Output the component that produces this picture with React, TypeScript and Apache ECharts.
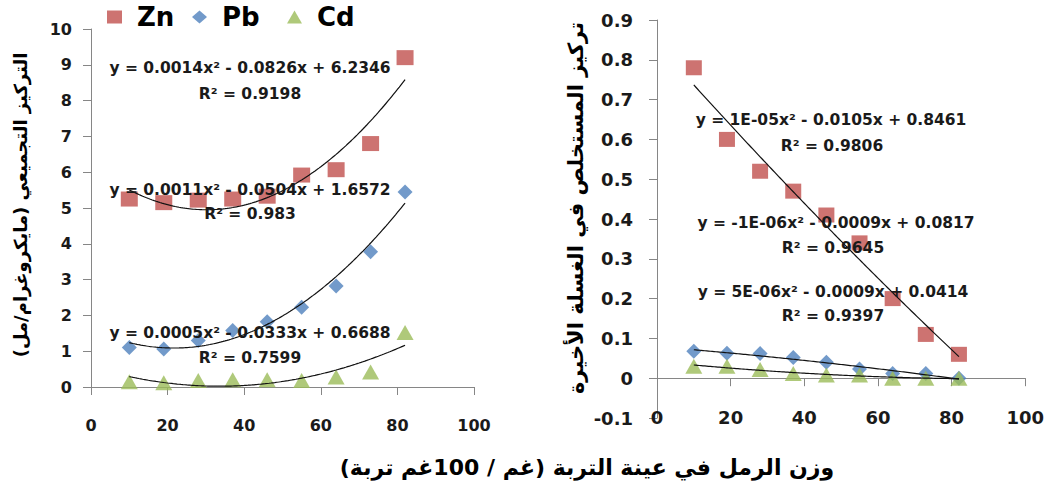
import { useEffect, useRef } from "react";
import * as echarts from "echarts";

// Sand weight in the soil sample (g / 100 g soil)
const sandWeight = [10, 19, 28, 37, 46, 55, 64, 73, 82];

// Left chart: cumulative concentration (µg/ml)
const totalZn = [5.25, 5.15, 5.22, 5.25, 5.33, 5.92, 6.07, 6.8, 9.2];
const totalPb = [1.1, 1.06, 1.3, 1.58, 1.82, 2.23, 2.82, 3.78, 5.45];
const totalCd = [0.15, 0.12, 0.18, 0.2, 0.2, 0.18, 0.28, 0.42, 1.52];

// Right chart: extract concentration in the last wash
const lastZn = [0.78, 0.6, 0.52, 0.47, 0.41, 0.34, 0.2, 0.11, 0.06];
const lastPb = [0.068, 0.063, 0.062, 0.052, 0.04, 0.023, 0.012, 0.012, 0.0];
const lastCd = [0.03, 0.03, 0.022, 0.012, 0.008, 0.008, 0.0, 0.0, 0.0];

const leftEquations = [
  "y = 0.0014x² - 0.0826x + 6.2346",
  "R² = 0.9198",
  "y = 0.0011x² - 0.0504x + 1.6572",
  "R² = 0.983",
  "y = 0.0005x² - 0.0333x + 0.6688",
  "R² = 0.7599",
];
const rightEquations = [
  "y = 1E-05x² - 0.0105x + 0.8461",
  "R² = 0.9806",
  "y = -1E-06x² - 0.0009x + 0.0817",
  "R² = 0.9645",
  "y = 5E-06x² - 0.0009x + 0.0414",
  "R² = 0.9397",
];

const leftYTitle = "التركيز التجميعي (مايكروغرام/مل)";
const rightYTitle = "تركيز المستخلص في الغسلة الأخيرة";
const xTitle = "وزن الرمل في عينة التربة (غم / 100غم تربة)";

const COLORS = { Zn: "#C0504D", Pb: "#4F81BD", Cd: "#9BBB59" };
const FONT = '"DejaVu Sans", sans-serif';

function det3(m: number[][]) {
  return (
    m[0][0] * (m[1][1] * m[2][2] - m[1][2] * m[2][1]) -
    m[0][1] * (m[1][0] * m[2][2] - m[1][2] * m[2][0]) +
    m[0][2] * (m[1][0] * m[2][1] - m[1][1] * m[2][0])
  );
}

// Least-squares 2nd order polynomial trendline (as the chart's trendlines)
function quadTrend(xs: number[], ys: number[]) {
  let sx = 0, sx2 = 0, sx3 = 0, sx4 = 0, sy = 0, sxy = 0, sx2y = 0;
  const n = xs.length;
  for (let i = 0; i < n; i++) {
    const x = xs[i], y = ys[i];
    sx += x; sx2 += x * x; sx3 += x * x * x; sx4 += x * x * x * x;
    sy += y; sxy += x * y; sx2y += x * x * y;
  }
  const M = [[sx4, sx3, sx2], [sx3, sx2, sx], [sx2, sx, n]];
  const R = [sx2y, sxy, sy];
  const D = det3(M);
  const coef = [0, 1, 2].map((k) => {
    const Mk = M.map((row, i) => row.map((v, j) => (j === k ? R[i] : v)));
    return det3(Mk) / D;
  });
  const pts: number[][] = [];
  const x0 = xs[0], x1 = xs[n - 1];
  for (let x = x0; x <= x1 + 1e-9; x += 0.5) {
    pts.push([x, coef[0] * x * x + coef[1] * x + coef[2]]);
  }
  return pts;
}

const pairs = (ys: number[]) => sandWeight.map((x, i) => [x, ys[i]]);

export default function App() {
  const ref = useRef<HTMLDivElement>(null);
  useEffect(() => {
    document.body.style.margin = "0";
    const chart = echarts.init(ref.current!, undefined, { renderer: "svg" });

    const axisLine = { show: true, lineStyle: { color: "#868686", width: 1 } };
    const axisTick = { show: true, length: 8, lineStyle: { color: "#868686", width: 1 } };
    const labelStyle = (size: number) => ({ fontFamily: FONT, fontWeight: "bold", fontSize: size, color: "#1a1a1a" });

    const scatter = (name: "Zn" | "Pb" | "Cd", ys: number[], idx: number, big: boolean) => ({
      type: "scatter",
      name,
      xAxisIndex: idx,
      yAxisIndex: idx,
      data: pairs(ys),
      symbol: name === "Zn" ? "rect" : name === "Pb" ? "diamond" : "triangle",
      symbolSize: name === "Zn" ? (big ? [17, 15] : [16, 15]) : name === "Pb" ? [15, 15] : [17, 15],
      itemStyle: { color: COLORS[name] },
      z: 3,
    });
    const trend = (ys: number[], idx: number) => ({
      type: "line",
      name: "trend",
      xAxisIndex: idx,
      yAxisIndex: idx,
      data: quadTrend(sandWeight, ys),
      showSymbol: false,
      symbol: "none",
      smooth: false,
      lineStyle: { color: "#111", width: 1.2 },
      z: 4,
      silent: true,
    });

    const eqText = (text: string, x: number, y: number) => ({
      type: "text",
      x,
      y,
      z: 100,
      style: {
        text,
        font: `bold 15.5px ${FONT}`,
        fill: "#1a1a1a",
        textAlign: "center",
        textVerticalAlign: "middle",
      },
    });
    const leftPos = [[250, 68], [250, 94], [250, 190], [250, 214], [250, 333], [250, 358]];
    const rightPos = [[831, 120], [832, 146], [836, 223], [833, 248], [833, 292], [833, 316]];

    const legendBase = {
      top: 4,
      padding: 0,
      itemWidth: 15,
      itemHeight: 13,
      selectedMode: false,
      textStyle: { fontFamily: FONT, fontWeight: "bold", fontSize: 26, color: "#000", padding: [0, 0, 0, 10] },
    };

    chart.setOption({
      animation: false,
      backgroundColor: "#fff",
      legend: [
        { ...legendBase, left: 107, data: ["Zn"] },
        { ...legendBase, left: 192, data: ["Pb"] },
        { ...legendBase, left: 287, data: ["Cd"] },
      ],
      grid: [
        { left: 91, top: 29, width: 383, height: 358 },
        { left: 657, top: 20, width: 371, height: 398 },
      ],
      xAxis: [
        {
          gridIndex: 0, type: "value", min: 0, max: 100, interval: 20,
          axisLine, axisTick, splitLine: { show: false },
          axisLabel: { ...labelStyle(16), margin: 30 },
        },
        {
          gridIndex: 1, type: "value", min: 0, max: 100, interval: 20,
          axisLine: { ...axisLine, onZero: true }, axisTick, splitLine: { show: false },
          axisLabel: { show: false },
        },
        {
          gridIndex: 1, type: "value", min: 0, max: 100, interval: 20, position: "bottom",
          axisLine: { show: false, onZero: false }, axisTick: { show: false }, splitLine: { show: false },
          axisLabel: { ...labelStyle(18), margin: -10 },
        },
      ],
      yAxis: [
        {
          gridIndex: 0, type: "value", min: 0, max: 10, interval: 1,
          axisLine, axisTick, splitLine: { show: false },
          axisLabel: { ...labelStyle(16), margin: 19 },
        },
        {
          gridIndex: 1, type: "value", min: -0.1, max: 0.9, interval: 0.1,
          axisLine, axisTick, splitLine: { show: false },
          axisLabel: {
            ...labelStyle(18), margin: 24,
            formatter: (v: number) => String(Number(v.toFixed(1))),
          },
        },
      ],
      series: [
        scatter("Zn", totalZn, 0, true),
        scatter("Pb", totalPb, 0, true),
        scatter("Cd", totalCd, 0, true),
        trend(totalZn, 0),
        trend(totalPb, 0),
        trend(totalCd, 0),
        scatter("Zn", lastZn, 1, false),
        scatter("Pb", lastPb, 1, false),
        scatter("Cd", lastCd, 1, false),
        trend(lastZn, 1),
        trend(lastPb, 1),
        trend(lastCd, 1),
      ],
      graphic: [
        ...leftEquations.map((t, i) => eqText(t, leftPos[i][0], leftPos[i][1])),
        ...rightEquations.map((t, i) => eqText(t, rightPos[i][0], rightPos[i][1])),
        {
          type: "text", x: 20, y: 205, rotation: Math.PI / 2, z: 100,
          style: { text: leftYTitle, font: `bold 18px ${FONT}`, fill: "#000", textAlign: "center", textVerticalAlign: "middle" },
        },
        {
          type: "text", x: 576, y: 208, rotation: Math.PI / 2, z: 100,
          style: { text: rightYTitle, font: `bold 21px ${FONT}`, fill: "#000", textAlign: "center", textVerticalAlign: "middle" },
        },
        {
          type: "text", x: 587, y: 467, z: 100,
          style: { text: xTitle, font: `bold 22px ${FONT}`, fill: "#000", textAlign: "center", textVerticalAlign: "middle" },
        },
      ],
    });
    return () => chart.dispose();
  }, []);
  return <div ref={ref} style={{ width: 1047, height: 488 }} />;
}
